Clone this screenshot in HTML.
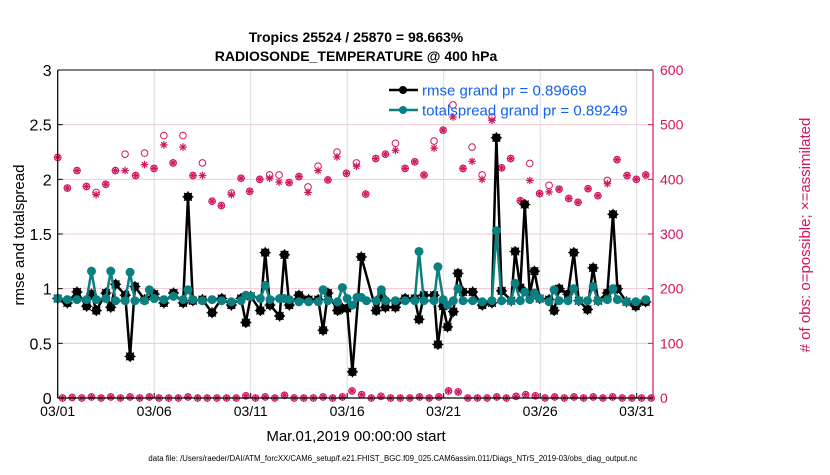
<!DOCTYPE html>
<html><head><meta charset="utf-8">
<style>
body{margin:0;background:#fff;width:830px;height:470px;overflow:hidden;font-family:"Liberation Sans",sans-serif;}
</style></head>
<body>
<svg id="chart" width="830" height="470" xmlns="http://www.w3.org/2000/svg" font-family="Liberation Sans, sans-serif">
<text x="356" y="42" text-anchor="middle" font-size="14" font-weight="bold">Tropics 25524 / 25870 = 98.663%</text>
<text x="356" y="61" text-anchor="middle" font-size="14" font-weight="bold">RADIOSONDE_TEMPERATURE @ 400 hPa</text>
<g id="grid"></g>
<g id="marks"></g>
<g id="axes"></g>
<text transform="translate(24,235) rotate(-90)" text-anchor="middle" font-size="15">rmse and totalspread</text>
<text transform="translate(810,235) rotate(-90)" text-anchor="middle" font-size="15" fill="#d01660"># of obs: o=possible; ×=assimilated</text>
<text x="356" y="441" text-anchor="middle" font-size="15">Mar.01,2019 00:00:00 start</text>
<text x="393" y="461" text-anchor="middle" font-size="7.8">data file: /Users/raeder/DAI/ATM_forcXX/CAM6_setup/f.e21.FHIST_BGC.f09_025.CAM6assim.011/Diags_NTrS_2019-03/obs_diag_output.nc</text>
<g>
<line x1="389" y1="90" x2="418" y2="90" stroke="#000" stroke-width="2.5"/>
<circle cx="403" cy="90" r="4" fill="#000"/>
<text x="422" y="95.5" font-size="15" fill="#1560f0">rmse grand pr = 0.89669</text>
<line x1="389" y1="110" x2="418" y2="110" stroke="#0a8080" stroke-width="2.5"/>
<circle cx="403" cy="110" r="4" fill="#0a8080"/>
<text x="422" y="115.5" font-size="15" fill="#1560f0">totalspread grand pr = 0.89249</text>
</g>
</svg>
<script>
const rmseDays=[0,0.5,1,1.5,1.75,2,2.5,2.75,3,3.5,3.75,4,4.5,5,5.5,6,6.5,6.75,7,7.5,8,8.5,9,9.5,9.75,10,10.5,10.75,11,11.5,11.75,12,12.5,13,13.5,13.75,14,14.5,14.75,15,15.27,15.73,16.5,16.77,16.98,17.5,18,18.5,18.72,18.97,19.5,19.7,19.97,20.2,20.5,20.74,21,21.5,22,22.5,22.73,23,23.5,23.7,23.97,24.2,24.46,24.7,24.97,25.46,25.72,25.98,26.44,26.74,27,27.45,27.74,28,28.48,28.77,29,29.47,29.95,30.47];
const rmseVals=[0.91,0.87,0.97,0.84,0.95,0.80,0.96,0.83,1.04,0.94,0.38,1.02,0.90,0.95,0.87,0.96,0.87,1.84,0.89,0.90,0.78,0.91,0.85,0.91,0.69,0.93,0.80,1.33,0.85,0.75,1.31,0.85,0.94,0.90,0.90,0.62,0.96,0.80,0.82,0.82,0.24,1.29,0.80,0.93,0.83,0.83,0.91,0.91,0.72,0.94,0.94,0.49,0.84,0.65,0.79,1.14,0.97,0.97,0.85,0.87,2.38,0.98,0.89,1.34,1.01,1.77,0.95,1.16,0.91,0.90,0.80,1.00,0.95,1.33,0.89,0.81,1.19,0.89,0.96,1.68,1.00,0.88,0.84,0.88];
const spreadDays=[0,0.5,1,1.5,1.75,2,2.5,2.75,3,3.5,3.75,4,4.5,4.75,5,5.5,6,6.5,6.75,7,7.5,8,8.5,9,9.5,9.75,10,10.5,10.75,11,11.5,11.75,12,12.5,13,13.5,13.75,14,14.5,14.75,15,15.27,15.5,15.73,16,16.5,16.77,17,17.5,18,18.5,18.72,18.97,19.5,19.7,19.97,20.2,20.5,20.74,21,21.5,22,22.5,22.73,23,23.5,23.7,23.97,24.2,24.46,24.7,24.97,25.46,25.72,25.98,26.44,26.74,27,27.45,27.74,28,28.48,28.77,29,29.47,29.95,30.47];
const spreadVals=[0.91,0.90,0.90,0.90,1.16,0.90,0.91,1.16,0.89,0.89,1.15,0.89,0.89,0.99,0.91,0.90,0.93,0.90,0.99,0.90,0.89,0.90,0.89,0.88,0.89,0.94,0.93,0.91,1.03,0.90,0.91,0.91,0.90,0.88,0.88,0.88,0.99,0.89,0.88,1.01,0.91,0.85,0.92,0.92,0.89,0.89,0.99,0.89,0.89,0.89,0.89,1.34,0.89,0.89,1.20,0.90,0.85,0.89,1.00,0.89,0.89,0.88,0.89,1.53,0.89,0.89,1.05,0.89,0.97,0.90,0.96,0.91,0.88,0.99,0.89,0.89,1.00,0.89,0.89,1.02,0.89,0.90,1.00,0.90,0.88,0.88,0.90];
const obsDays=[0,0.5,1,1.49,1.99,2.49,2.99,3.49,4.04,4.5,4.99,5.5,5.98,6.49,7.01,7.5,8,8.48,9,9.5,9.95,10.47,10.98,11.47,11.99,12.5,12.97,13.49,14,14.47,14.96,15.48,15.96,16.48,16.98,17.5,18,18.5,18.98,19.5,19.97,20.48,21,21.47,21.99,22.5,23,23.47,23.97,24.46,24.97,25.46,25.98,26.48,26.96,27.48,27.99,28.48,28.98,29.5,29.98,30.47];
const obsPossible=[440,384,416,387,376,391,416,446,407,448,420,480,430,480,407,430,360,352,375,402,378,400,408,408,394,405,386,424,399,450,411,430,373,438,446,466,420,432,408,470,490,536,420,459,408,514,421,438,361,429,374,389,382,365,358,383,370,398,436,407,400,408];
const obsAssim=[440,384,416,387,372,391,416,416,407,427,420,463,430,459,407,407,360,352,372,402,378,400,402,395,394,405,376,416,399,441,411,424,373,438,446,453,420,432,408,457,490,514,420,433,400,508,421,438,361,398,374,377,382,365,358,383,370,392,436,407,400,408];
const lowDays=[0.25,0.75,1.25,1.75,2.25,2.75,3.25,3.75,4.25,4.75,5.25,5.75,6.25,6.75,7.25,7.75,8.25,8.75,9.25,9.75,10.25,10.75,11.25,11.75,12.25,12.75,13.25,13.75,14.25,14.75,15.25,15.75,16.25,16.75,17.25,17.75,18.25,18.75,19.25,19.75,20.25,20.75,21.25,21.75,22.25,22.75,23.25,23.75,24.25,24.75,25.25,25.75,26.25,26.75,27.25,27.75,28.25,28.75,29.25,29.75,30.25,30.75];
const lowVals=[0,1,0,2,0,2,0,2,0,2,0,0,0,2,0,0,0,0,0,4,0,2,0,5,0,0,0,2,0,2,13,6,0,3,0,0,0,2,0,2,13,11,0,0,0,2,0,3,6,4,0,2,0,2,0,2,0,2,0,0,0,0];
const xTickDays=[0,5,10,15,20,25,30];
const xTickLabels=["03/01","03/06","03/11","03/16","03/21","03/26","03/31"];
const yTicks=[0,0.5,1,1.5,2,2.5,3];
const yTickLabels=["0","0.5","1","1.5","2","2.5","3"];
const y2Ticks=[0,100,200,300,400,500,600];

const X0=57.7,X1=653,Y0=398,Y1=70;
const PXD=19.3;
function xs(d){return X0+d*PXD;}
function ys(v){return Y0-(v/3)*(Y0-Y1);}
function ys2(n){return Y0-(n/600)*(Y0-Y1);}
const NS="http://www.w3.org/2000/svg";
function mk(tag,attrs,parent){const e=document.createElementNS(NS,tag);for(const k in attrs)e.setAttribute(k,attrs[k]);parent.appendChild(e);return e;}
const grid=document.getElementById('grid'),marks=document.getElementById('marks'),axes=document.getElementById('axes');

xTickDays.forEach((d,i)=>{
  const l=mk('line',{x1:xs(d),x2:xs(d),y1:Y1,y2:Y0,stroke:'#dcdcdc','stroke-width':1},grid);
  
  
  const t=mk('line',{x1:xs(d),x2:xs(d),y1:Y0,y2:Y0-5,stroke:'#000'},axes);
  
  
  const tx=mk('text',{x:xs(d),y:416,'text-anchor':'middle','font-size':14},axes);
  tx.textContent=xTickLabels[i];
  
  
});
y2Ticks.forEach(n=>{
  if(n>0&&n<600){const l=mk('line',{x1:X0,x2:X1,y1:ys2(n),y2:ys2(n),stroke:'#f4c6d6','stroke-width':1},grid);
  
  }
  const t=mk('line',{x1:X1,x2:X1-5,y1:ys2(n),y2:ys2(n),stroke:'#d01660'},axes);
  
  
  const tx=mk('text',{x:X1+7,y:ys2(n)+5,'font-size':14,fill:'#d01660'},axes);
  tx.textContent=String(n);
  
  
});
yTicks.forEach((v,i)=>{
  const t=mk('line',{x1:X0,x2:X0+5,y1:ys(v),y2:ys(v),stroke:'#000'},axes);
  
  
  const tx=mk('text',{x:X0-6,y:ys(v)+6,'text-anchor':'end','font-size':16},axes);
  tx.textContent=yTickLabels[i];
  
  
});
const la=mk('line',{x1:X0,x2:X0,y1:Y1,y2:Y0,stroke:'#000','stroke-width':1.2},axes);


const lb=mk('line',{x1:X0,x2:X1,y1:Y0,y2:Y0,stroke:'#000','stroke-width':1.2},axes);


const lt=mk('line',{x1:X0,x2:X1,y1:Y1,y2:Y1,stroke:'#000','stroke-width':1},axes);


const lr=mk('line',{x1:X1,x2:X1,y1:Y1,y2:Y0,stroke:'#d01660','stroke-width':1.2},axes);



function star(cx,cy,r,color,parent,name){
  const g=mk('g',{},parent);
  
  
  for(let a=0;a<4;a++){const t=a*Math.PI/4;mk('line',{x1:cx-r*Math.cos(t),y1:cy-r*Math.sin(t),x2:cx+r*Math.cos(t),y2:cy+r*Math.sin(t),stroke:color,'stroke-width':1.2},g);}
  return g;
}
obsDays.forEach((d,i)=>{
  const c=mk('circle',{cx:xs(d),cy:ys2(obsPossible[i]),r:3.3,fill:'none',stroke:'#d01660','stroke-width':1},marks);
  
  
  star(xs(d),ys2(obsAssim[i]),3.8,'#d01660',marks,'obs-assimilated-point');
});
lowDays.forEach((d,i)=>{
  const c=mk('circle',{cx:xs(d),cy:ys2(lowVals[i]),r:3.3,fill:'none',stroke:'#d01660','stroke-width':1},marks);
  
  
  star(xs(d),ys2(lowVals[i]),3.8,'#d01660',marks,'obs-low-assimilated-point');
});
const rp=mk('polyline',{points:rmseDays.map((d,i)=>xs(d)+','+ys(rmseVals[i])).join(' '),fill:'none',stroke:'#000','stroke-width':2.5,'stroke-linejoin':'round'},marks);


rmseDays.forEach((d,i)=>{
  const c=mk('circle',{cx:xs(d),cy:ys(rmseVals[i]),r:4.5,fill:'#000'},marks);
  
  
  star(xs(d),ys(rmseVals[i]),5.5,'#000',marks,'rmse-point-star');
});
const sp=mk('polyline',{points:spreadDays.map((d,i)=>xs(d)+','+ys(spreadVals[i])).join(' '),fill:'none',stroke:'#0a8080','stroke-width':2.5,'stroke-linejoin':'round'},marks);


spreadDays.forEach((d,i)=>{
  const c=mk('circle',{cx:xs(d),cy:ys(spreadVals[i]),r:4.5,fill:'#0a8080'},marks);
  
  
});
</script>
</body></html>
